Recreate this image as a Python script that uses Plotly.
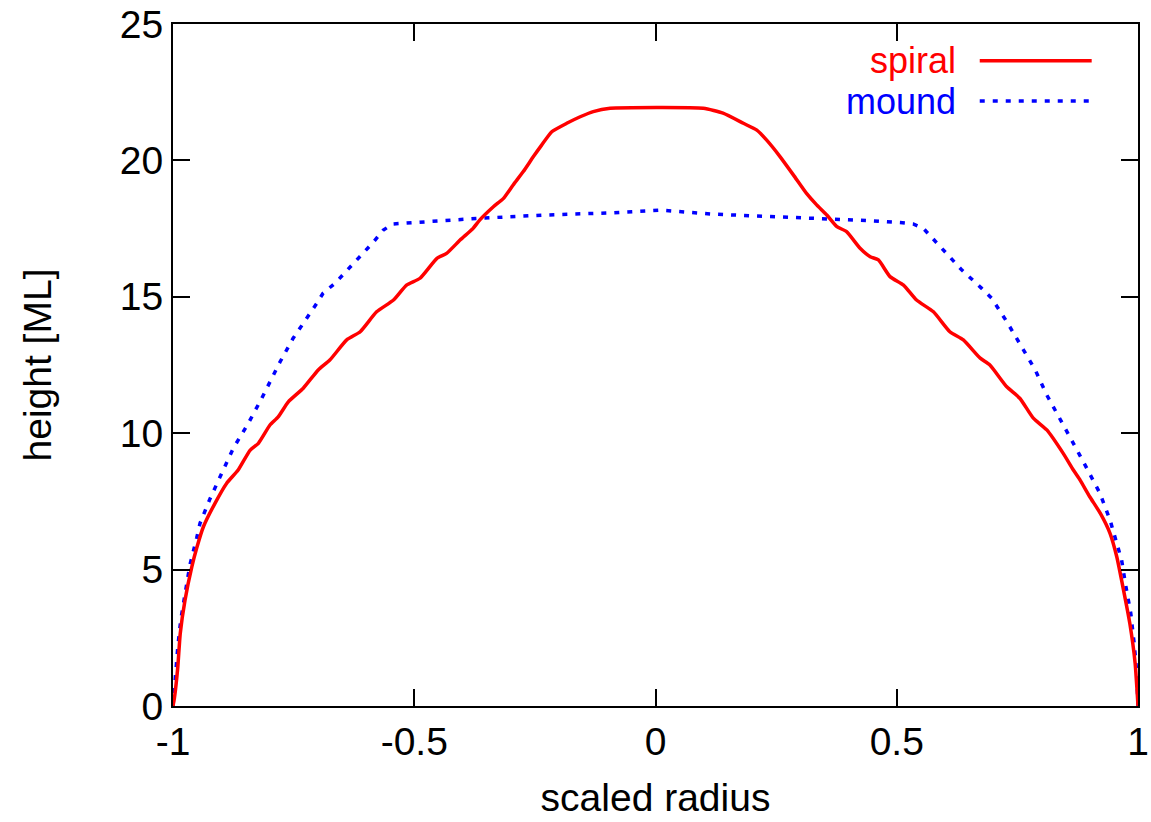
import plotly.graph_objects as go

spiral_x = [-1.0, -0.997, -0.99, -0.985, -0.975, -0.961, -0.951, -0.937, -0.913, -0.889, -0.865,
            -0.84, -0.823, -0.799, -0.782, -0.761, -0.73, -0.699, -0.675, -0.64, -0.612, -0.578,
            -0.543, -0.516, -0.488, -0.453, -0.433, -0.405, -0.378, -0.364, -0.336, -0.315, -0.295,
            -0.274, -0.253, -0.236, -0.215, -0.184, -0.156, -0.129, -0.094, 0.099, 0.14, 0.182,
            0.21, 0.23, 0.258, 0.286, 0.313, 0.334, 0.355, 0.376, 0.396, 0.424, 0.445, 0.462,
            0.486, 0.514, 0.541, 0.576, 0.61, 0.638, 0.673, 0.693, 0.728, 0.755, 0.783, 0.811,
            0.845, 0.866, 0.88, 0.9, 0.922, 0.942, 0.956, 0.97, 0.983, 0.994, 1.0]
spiral_y = [0.0, 0.3, 1.44, 2.66, 3.89, 5.1, 5.78, 6.57, 7.43, 8.16, 8.65,
            9.38, 9.63, 10.3, 10.6, 11.15, 11.65, 12.32, 12.68, 13.42, 13.72, 14.45,
            14.88, 15.43, 15.68, 16.41, 16.59, 17.08, 17.51, 17.82, 18.3, 18.61, 19.1,
            19.59, 20.14, 20.56, 21.05, 21.36, 21.6, 21.79, 21.91, 21.91, 21.73, 21.36,
            21.11, 20.75, 20.14, 19.46, 18.79, 18.37, 18.0, 17.57, 17.39, 16.78, 16.47, 16.35,
            15.74, 15.43, 14.88, 14.45, 13.72, 13.42, 12.75, 12.5, 11.7, 11.28, 10.55, 10.12,
            9.26, 8.65, 8.28, 7.67, 7.06, 6.33, 5.47, 4.25, 3.03, 1.57, 0.0]

mound_x = [-1.0, -0.996, -0.99, -0.984, -0.975, -0.965, -0.951, -0.944, -0.923, -0.899, -0.875,
           -0.844, -0.816, -0.778, -0.751, -0.702, -0.689, -0.664, -0.626, -0.585, -0.564, -0.544,
           -0.364, -0.225, -0.087, 0.009, 0.12, 0.258, 0.445, 0.507, 0.534, 0.555, 0.596, 0.635,
           0.676, 0.697, 0.728, 0.759, 0.787, 0.811, 0.838, 0.866, 0.894, 0.921, 0.942, 0.959,
           0.966, 0.975, 0.985, 0.992, 0.997, 1.0]
mound_y = [0.0, 0.95, 2.17, 3.15, 4.13, 5.17, 6.15, 6.7, 7.61, 8.53, 9.45,
           10.36, 11.28, 12.62, 13.48, 14.76, 15.13, 15.5, 16.2, 17.0, 17.45, 17.67,
           17.88, 18.0, 18.08, 18.18, 18.03, 17.94, 17.79, 17.72, 17.67, 17.51, 16.72, 15.98,
           15.31, 14.94, 14.09, 13.17, 12.32, 11.4, 10.55, 9.63, 8.71, 7.8, 6.82, 5.84,
           5.35, 4.37, 3.4, 2.3, 1.32, 0.0]

x_ticks = [-1, -0.5, 0, 0.5, 1]
x_tick_labels = ["-1", "-0.5", "0", "0.5", "1"]
y_ticks = [0, 5, 10, 15, 20, 25]
series_names = ["spiral", "mound"]
series_colors = ["#ff0000", "#0000ff"]

FONT = "Liberation Sans, Arial, sans-serif"
FS = 39
LEG_FS = 36

fig = go.Figure()
fig.add_trace(go.Scatter(x=mound_x, y=mound_y, mode="lines", name=series_names[1],
                         line=dict(color=series_colors[1], width=3.5, dash="5px,8px"),
                         showlegend=False))
fig.add_trace(go.Scatter(x=spiral_x, y=spiral_y, mode="lines", name=series_names[0],
                         line=dict(color=series_colors[0], width=3.5, shape="spline", smoothing=0.5),
                         showlegend=False))

# manual legend (gnuplot style: text left of the sample)
leg_y = [0.946, 0.887]
dashes = ["solid", "5px,8px"]
for i, name in enumerate(series_names):
    fig.add_annotation(xref="paper", yref="paper", x=0.812, y=leg_y[i], text=name,
                       showarrow=False, xanchor="right", yanchor="middle",
                       borderpad=0,
                       font=dict(family=FONT, size=LEG_FS, color=series_colors[i]))
    fig.add_shape(type="line", xref="paper", yref="paper", x0=0.836, x1=0.952,
                  y0=leg_y[i], y1=leg_y[i],
                  line=dict(color=series_colors[i], width=3.5, dash=dashes[i]))

axis_common = dict(showgrid=False, zeroline=False, showline=True, linecolor="black",
                   linewidth=2, mirror="ticks", ticks="inside", ticklen=17, tickwidth=2,
                   tickcolor="black", automargin=False,
                   tickfont=dict(family=FONT, size=FS, color="black"))

fig.update_layout(
    width=1151, height=822,
    margin=dict(l=173, r=13, t=24, b=116),
    paper_bgcolor="white", plot_bgcolor="white",
    font=dict(family=FONT, size=FS, color="black"),
    xaxis=dict(range=[-1, 1], tickvals=x_ticks, ticktext=x_tick_labels,
               title=dict(text="scaled radius", font=dict(family=FONT, size=FS), standoff=22),
               **axis_common),
    yaxis=dict(range=[0, 25], tickvals=y_ticks,
               title=dict(text="height [ML]", font=dict(family=FONT, size=FS), standoff=56),
               **axis_common),
)

fig.write_html("out.html")
